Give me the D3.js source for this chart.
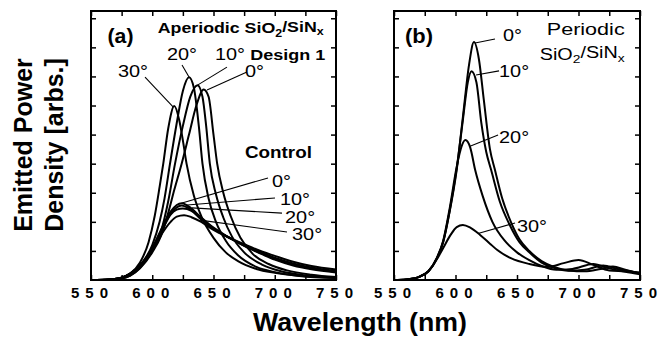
<!DOCTYPE html>
<html><head><meta charset="utf-8">
<script src="https://cdn.jsdelivr.net/npm/d3@7"></script>
<style>html,body{margin:0;padding:0;background:#fff;}svg{display:block;}</style>
</head><body>
<svg id="c" width="662" height="341"></svg>
<script>
// ---------- DATA ----------
const xTicksMajor = [550, 600, 650, 700, 750];
const xTicksAll = [550, 575, 600, 625, 650, 675, 700, 725, 750];
const yTicks = [1, 2, 3, 4, 5, 6, 7, 8, 9];

// Panel (a): aperiodic design, [wavelength nm, power arb.]
const aperiodic0 = [[550,0],[565,0.01],[575,0.05],[582,0.15],[590,0.4],[600,0.95],[607,1.5],[613,2.3],[618,3.1],[624,4.0],[630,5.0],[636,6.0],[642,6.55],[646,6.3],[650,5.0],[653,4.0],[658,3.0],[664,2.2],[672,1.45],[682,0.9],[695,0.55],[710,0.33],[730,0.18],[750,0.1]];
const aperiodic10 = [[550,0],[565,0.01],[575,0.05],[582,0.15],[590,0.42],[600,1.0],[607,1.65],[613,2.7],[618.6,4.0],[625,5.3],[631,6.3],[637,6.7],[641,6.3],[644,5.3],[647,4.0],[652,2.95],[658,2.15],[665,1.5],[675,0.95],[690,0.52],[705,0.3],[725,0.16],[750,0.08]];
const aperiodic20 = [[550,0],[565,0.01],[575,0.06],[582,0.18],[590,0.5],[600,1.2],[606,2.0],[610,2.8],[614.5,4.0],[620,5.4],[625,6.5],[630,6.97],[634,6.6],[638,5.3],[641,4.0],[646,2.8],[652,2.0],[660,1.35],[670,0.85],[685,0.45],[700,0.27],[720,0.14],[750,0.07]];
const aperiodic30 = [[550,0],[565,0.02],[575,0.08],[582,0.22],[590,0.6],[597,1.3],[602,2.2],[606,3.2],[609,4.0],[613,5.2],[618,5.98],[622,5.5],[625,4.8],[628,4.0],[634,2.9],[640,2.2],[650,1.45],[660,0.95],[670,0.65],[685,0.38],[700,0.25],[720,0.15],[750,0.08]];
// Panel (a): control
const control0 = [[550,0],[565,0.02],[575,0.08],[582,0.22],[590,0.5],[600,1.1],[608,1.8],[615,2.35],[620,2.58],[624,2.64],[630,2.52],[640,2.15],[650,1.8],[662,1.48],[675,1.17],[690,0.88],[700,0.7],[715,0.5],[730,0.37],[750,0.26]];
const control10 = [[550,0],[565,0.02],[575,0.08],[582,0.22],[590,0.5],[600,1.08],[608,1.75],[615,2.28],[620,2.5],[624,2.56],[630,2.46],[640,2.12],[650,1.78],[662,1.47],[675,1.18],[690,0.9],[700,0.73],[715,0.53],[730,0.4],[750,0.28]];
const control20 = [[550,0],[565,0.02],[575,0.08],[582,0.22],[590,0.5],[600,1.05],[608,1.7],[615,2.25],[620,2.42],[625,2.46],[632,2.38],[640,2.08],[650,1.76],[662,1.47],[675,1.2],[690,0.93],[700,0.77],[715,0.57],[730,0.43],[750,0.31]];
const control30 = [[550,0],[565,0.02],[575,0.08],[582,0.22],[590,0.48],[600,1.0],[608,1.6],[615,2.0],[620,2.18],[626,2.23],[632,2.16],[640,2.0],[650,1.72],[662,1.47],[675,1.23],[690,0.97],[700,0.83],[715,0.63],[730,0.48],[750,0.36]];
// Panel (b): periodic
const periodic0 = [[550,0],[560,0.02],[570,0.1],[578,0.3],[585,0.75],[590,1.3],[595,2.3],[601,3.8],[606,5.6],[611,7.4],[615,8.18],[619,7.6],[623,6.2],[628,4.5],[632,3.8],[638,2.8],[645,2.0],[652,1.4],[660,1.0],[670,0.65],[680,0.45],[692,0.33],[705,0.3],[718,0.38],[728,0.46],[738,0.35],[750,0.22]];
const periodic10 = [[550,0],[560,0.02],[570,0.1],[578,0.3],[585,0.76],[590,1.32],[595,2.32],[601,3.85],[606,5.5],[610,6.8],[613,7.18],[617,6.8],[621,5.4],[625,4.4],[629,3.78],[636,2.7],[644,1.9],[652,1.3],[660,0.95],[670,0.6],[680,0.42],[692,0.32],[705,0.35],[720,0.5],[732,0.38],[742,0.3],[750,0.25]];
const periodic20 = [[550,0],[560,0.02],[570,0.1],[578,0.3],[585,0.78],[590,1.35],[595,2.4],[601,3.9],[605,4.6],[608,4.81],[612,4.55],[616,3.78],[622,2.9],[630,2.0],[640,1.35],[650,0.95],[660,0.68],[670,0.48],[682,0.35],[695,0.38],[712,0.55],[725,0.4],[738,0.28],[750,0.2]];
const periodic30 = [[550,0],[560,0.02],[570,0.1],[578,0.3],[585,0.72],[590,1.1],[596,1.55],[601,1.82],[606,1.89],[612,1.8],[620,1.55],[628,1.25],[634,1.03],[645,0.75],[660,0.55],[675,0.45],[688,0.58],[700,0.69],[712,0.52],[725,0.33],[738,0.3],[750,0.25]];

// Annotations in data units: label anchor [λ, v], leader from [λ,v] to [λ,v]
const annotA = [
  {t:"30°", at:[572,6.98], from:[594.1,6.98], to:[617,5.95]},
  {t:"20°", at:[612,7.57], from:[624.3,7.39], to:[630,6.98]},
  {t:"10°", at:[651.2,7.57], from:[661,7.32], to:[637.3,6.71]},
  {t:"0°",  at:[675.7,6.98], from:[677.3,7.15], to:[644.7,6.53]},
  {t:"0°",  at:[697.8,3.2], from:[694.5,3.51], to:[624.3,2.65]},
  {t:"10°", at:[704.3,2.58], from:[700.2,2.82], to:[628.4,2.58]},
  {t:"20°", at:[708.4,1.96], from:[705.9,2.3], to:[632.4,2.48]},
  {t:"30°", at:[714.1,1.38], from:[710,1.65], to:[639,2.06]}
];
const annotB = [
  {t:"0°",  at:[638.6,8.22], from:[632.1,8.29], to:[615.9,8.15]},
  {t:"10°", at:[635.4,6.98], from:[635.4,7.19], to:[616.7,7.05]},
  {t:"20°", at:[635.4,4.71], from:[634.6,4.99], to:[611.8,4.6]},
  {t:"30°", at:[650,1.65], from:[648.4,1.96], to:[618.3,1.6]}
];

// ---------- DRAW ----------
const svg = d3.select("#c");
const FONT = "'Liberation Sans', Arial, Helvetica, sans-serif";
const y = d3.scaleLinear().domain([0, 9.25]).range([280, 11]);
const xa = d3.scaleLinear().domain([550, 750]).range([91, 336]);
const xb = d3.scaleLinear().domain([550, 750]).range([394, 640]);

function scaleX(sel, s) {
  const x0 = +sel.attr("x");
  sel.attr("transform", `translate(${x0*(1-s)},0) scale(${s},1)`);
}
function fit(sel, target) {
  scaleX(sel, target / sel.node().getComputedTextLength());
}

function panel(x, series, annots) {
  const g = svg.append("g");
  g.append("g").attr("transform", `translate(0,${y(0)})`)
    .call(d3.axisBottom(x).tickValues(xTicksAll).tickSize(-5).tickFormat(""));
  g.append("g").attr("transform", `translate(0,${y(9.25)})`)
    .call(d3.axisTop(x).tickValues(xTicksAll).tickSize(-5).tickFormat(""));
  g.append("g").attr("transform", `translate(${x(550)},0)`)
    .call(d3.axisLeft(y).tickValues(yTicks).tickSize(-5).tickFormat(""));
  g.append("g").attr("transform", `translate(${x(750)},0)`)
    .call(d3.axisRight(y).tickValues(yTicks).tickSize(-5).tickFormat(""));
  g.selectAll(".domain").remove();
  g.selectAll(".tick line").attr("stroke", "#000").attr("stroke-width", 1.5);
  g.append("rect").attr("x", x(550)).attr("y", y(9.25))
    .attr("width", x(750) - x(550)).attr("height", y(0) - y(9.25))
    .attr("fill", "none").attr("stroke", "#000").attr("stroke-width", 2);
  const line = d3.line().x(d => x(d[0])).y(d => y(d[1])).curve(d3.curveMonotoneX);
  series.forEach(s => {
    g.append("path").attr("d", line(s)).attr("fill", "none")
      .attr("stroke", "#000").attr("stroke-width", 2).attr("stroke-linejoin", "round");
  });
  annots.forEach(a => {
    g.append("line").attr("x1", x(a.from[0])).attr("y1", y(a.from[1]))
      .attr("x2", x(a.to[0])).attr("y2", y(a.to[1]))
      .attr("stroke", "#000").attr("stroke-width", 1.1);
    const t = g.append("text").attr("x", x(a.at[0])).attr("y", y(a.at[1]))
      .attr("font-family", FONT).attr("font-size", 17).attr("fill", "#000").text(a.t);
    scaleX(t, 1.17);
  });
  xTicksMajor.forEach(v => {
    g.append("text").attr("x", x(v) + 1.5).attr("y", 297.5)
      .attr("text-anchor", "middle").attr("font-family", FONT).attr("font-weight", "bold")
      .attr("font-size", 15).attr("letter-spacing", "6px").text(v);
  });
  return g;
}

panel(xa, [aperiodic0, aperiodic10, aperiodic20, aperiodic30, control0, control10, control20, control30], annotA);
panel(xb, [periodic0, periodic10, periodic20, periodic30], annotB);

const la = svg.append("text").attr("x", xa(563.5)).attr("y", y(8.15)).attr("font-family", FONT)
  .attr("font-weight", "bold").attr("font-size", 20.5).text("(a)");
fit(la, 26);
const lb = svg.append("text").attr("x", xb(559)).attr("y", y(8.15)).attr("font-family", FONT)
  .attr("font-weight", "bold").attr("font-size", 20.5).text("(b)");
fit(lb, 28);

function chem(sel) {
  sel.append("tspan").text("SiO");
  sel.append("tspan").attr("font-size", "0.7em").attr("dy", "0.3em").text("2");
  sel.append("tspan").attr("dy", "-0.3em").text("/SiN");
  sel.append("tspan").attr("font-size", "0.7em").attr("dy", "0.3em").text("x");
}
const t1 = svg.append("text").attr("x", xa(604.5)).attr("y", y(8.48)).attr("font-family", FONT)
  .attr("font-weight", "bold").attr("font-size", 15);
t1.append("tspan").text("Aperiodic ");
chem(t1);
fit(t1, 166);
const t2 = svg.append("text").attr("x", xa(680)).attr("y", y(7.57)).attr("font-family", FONT)
  .attr("font-weight", "bold").attr("font-size", 15.5).text("Design 1");
fit(t2, 75);
const t3 = svg.append("text").attr("x", xa(675.7)).attr("y", y(4.2)).attr("font-family", FONT)
  .attr("font-weight", "bold").attr("font-size", 17).text("Control");
fit(t3, 67);
const t4 = svg.append("text").attr("x", xb(674.2)).attr("y", y(8.42)).attr("font-family", FONT)
  .attr("font-size", 16).text("Periodic");
fit(t4, 78);
const t5 = svg.append("text").attr("x", xb(668.5)).attr("y", y(7.57)).attr("font-family", FONT)
  .attr("font-size", 16);
chem(t5);
fit(t5, 85);

const xt = svg.append("text").attr("x", 253).attr("y", 331).attr("font-family", FONT)
  .attr("font-weight", "bold").attr("font-size", 25).text("Wavelength (nm)");
fit(xt, 214);

const yl = svg.append("g").attr("transform", "translate(0,145) rotate(-90)");
yl.append("text").attr("x", 0).attr("y", 32).attr("text-anchor", "middle").attr("font-family", FONT)
  .attr("font-weight", "bold").attr("font-size", 25).text("Emitted Power");
yl.append("text").attr("x", 0).attr("y", 63).attr("text-anchor", "middle").attr("font-family", FONT)
  .attr("font-weight", "bold").attr("font-size", 25).text("Density [arbs.]");
</script>
</body></html>
